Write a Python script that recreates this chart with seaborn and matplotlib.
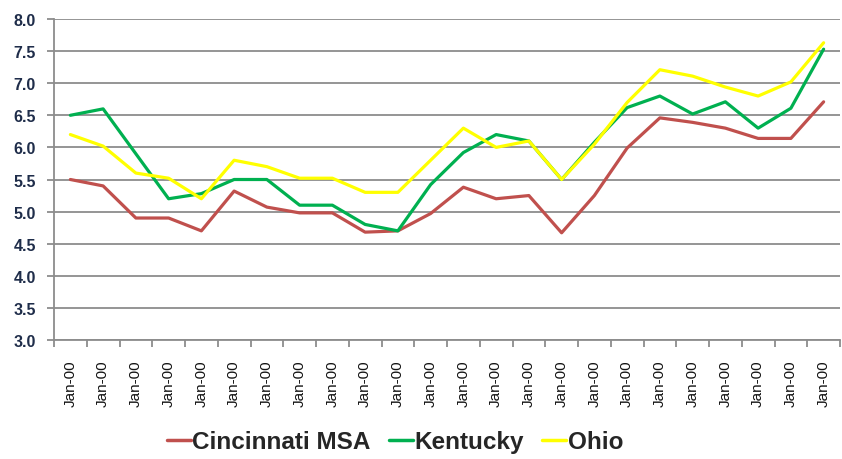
import numpy as np
import pandas as pd
import matplotlib
matplotlib.use("Agg")
import matplotlib.pyplot as plt
import seaborn as sns

# ---- data ----
months = ["Jan-00"] * 24
cincinnati = [5.50, 5.40, 4.90, 4.90, 4.70, 5.32, 5.07, 4.98, 4.98, 4.68, 4.70, 4.97,
              5.38, 5.20, 5.25, 4.67, 5.25, 5.99, 6.46, 6.39, 6.30, 6.14, 6.14, 6.71]
kentucky = [6.50, 6.60, 5.90, 5.20, 5.28, 5.50, 5.50, 5.10, 5.10, 4.80, 4.70, 5.42,
            5.92, 6.20, 6.10, 5.50, 6.08, 6.62, 6.80, 6.52, 6.71, 6.30, 6.61, 7.53]
ohio = [6.20, 6.02, 5.60, 5.52, 5.20, 5.80, 5.70, 5.52, 5.52, 5.30, 5.30, 5.80,
        6.30, 6.00, 6.10, 5.50, 6.05, 6.70, 7.21, 7.11, 6.94, 6.80, 7.02, 7.63]
series_names = ["Cincinnati MSA", "Kentucky", "Ohio"]
colors = ["#C0504D", "#00B050", "#FFFF00"]
yticks = [3.0, 3.5, 4.0, 4.5, 5.0, 5.5, 6.0, 6.5, 7.0, 7.5, 8.0]

idx = np.arange(len(months))
df = pd.concat([
    pd.DataFrame({"x": idx, "value": vals, "series": name})
    for name, vals in zip(series_names, [cincinnati, kentucky, ohio])
], ignore_index=True)

sns.set_theme(style="white")
plt.rcParams["font.family"] = ["Liberation Sans", "DejaVu Sans"]

fig = plt.figure(figsize=(8.42, 4.60), dpi=100)
ax = fig.add_axes([54 / 842, 1 - 341 / 460, 786 / 842, 321 / 460])

sns.lineplot(data=df, x="x", y="value", hue="series", hue_order=series_names,
             palette=colors, linewidth=2.3, ax=ax, legend=True)

ax.set_xlim(-0.5, len(months) - 0.5)
ax.set_ylim(3.0, 8.0)
ax.set_yticks(yticks)
ax.set_yticklabels([f"{v:.1f}" for v in yticks], fontsize=11.5, fontweight="bold",
                   color="#1F2D4A")
ax.yaxis.grid(True, color="#8C8C8C", linewidth=1.3)
ax.xaxis.grid(False)
ax.set_axisbelow(True)

ax.set_xticks(idx)
ax.set_xticklabels(months, rotation=90, fontsize=11, color="#141414")
ax.set_xticks(np.arange(-0.5, len(months), 1.0), minor=True)
ax.tick_params(axis="x", which="major", length=0, pad=14)
ax.tick_params(axis="x", which="minor", length=5, width=1.3, color="#8C8C8C", bottom=True)
ax.tick_params(axis="y", which="major", length=5, width=1.3, color="#8C8C8C", left=True, pad=8)

for s in ["top", "right"]:
    ax.spines[s].set_visible(False)
for s in ["left", "bottom"]:
    ax.spines[s].set_color("#8C8C8C")
    ax.spines[s].set_linewidth(1.3)

ax.set_xlabel("")
ax.set_ylabel("")

handles, labels = ax.get_legend_handles_labels()
ax.legend_.remove()
leg = fig.legend(handles, labels, loc="center", bbox_to_anchor=(395 / 842, 1 - 443 / 460),
                 ncol=3, frameon=False, prop={"weight": "bold", "size": 17.5},
                 handlelength=1.0, handletextpad=0.05, columnspacing=0.75)
for h in leg.legend_handles:
    h.set_linewidth(2.5)

fig.savefig("out.png", dpi=100)
